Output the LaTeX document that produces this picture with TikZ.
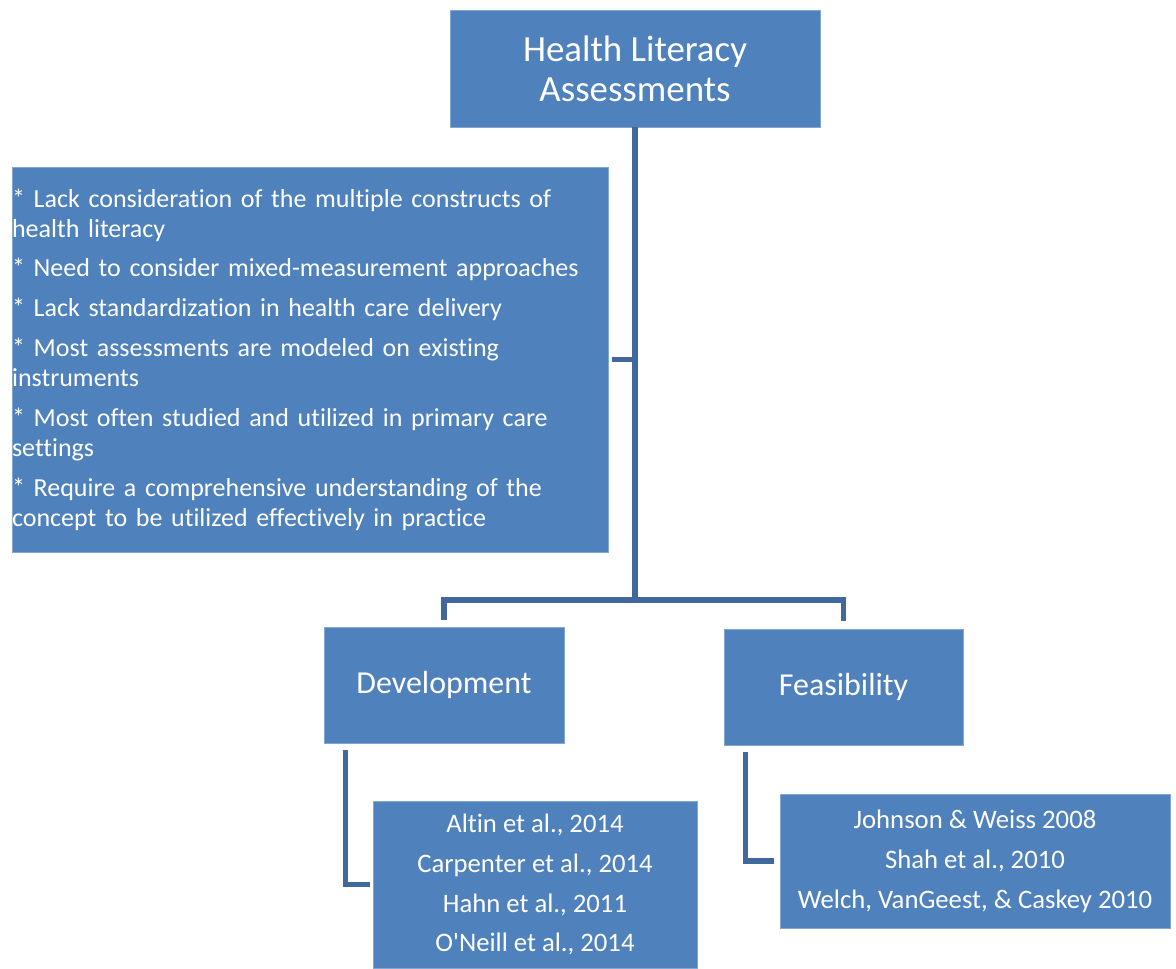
\documentclass[tikz,border=0pt]{standalone}
\usepackage{fontspec}
\setmainfont{Carlito}[Ligatures={NoCommon}]
\usepackage{tikz}

\definecolor{boxblue}{HTML}{4F81BD}
\definecolor{lineblue}{RGB}{64,104,156}

\begin{document}
\begin{tikzpicture}[x=0.02cm, y=-0.02cm,
    box/.style={fill=boxblue, draw=boxblue!70!white, line width=0.4pt, text=white, inner sep=0pt, align=center},
    conn/.style={draw=lineblue, line width=3.1pt}]

  \useasboundingbox (0,0) rectangle (1176,968);

  % top level
  \node[box, minimum width=7.4cm, minimum height=2.34cm,
        font=\fontsize{21}{22.7}\selectfont] (hla) at (635,68.5)
    {Health Literacy\\Assessments};

  % findings
  \node[box, align=left, text width=11.92cm, minimum height=7.7cm,
        font=\fontsize{14.8}{17}\selectfont] (notes) at (310,359.5)
    {* Lack consideration of the multiple constructs of\\health literacy\\[5.7pt]
     * Need to consider mixed-measurement approaches\\[5.7pt]
     * Lack standardization in health care delivery\\[5.7pt]
     * Most assessments are modeled on existing\\instruments\\[5.7pt]
     * Most often studied and utilized in primary care\\settings\\[5.7pt]
     * Require a comprehensive understanding of the\\concept to be utilized effectively in practice};

  % second level
  \node[box, minimum width=4.8cm, minimum height=2.32cm,
        font=\fontsize{18.2}{21}\selectfont] (dev) at (444,685) {Development};
  \node[box, minimum width=4.78cm, minimum height=2.32cm,
        font=\fontsize{18.2}{21}\selectfont] (feas) at (843.5,687) {Feasibility};

  % references
  \node[box, minimum width=6.48cm, minimum height=3.34cm,
        font=\fontsize{15.2}{22.7}\selectfont] (devrefs) at (535,884.5)
    {Altin et al., 2014\\Carpenter et al., 2014\\Hahn et al., 2011\\O\textquotesingle Neill et al., 2014};
  \node[box, minimum width=7.8cm, minimum height=2.68cm,
        font=\fontsize{15.2}{22.7}\selectfont] (feasrefs) at (975,861)
    {Johnson \& Weiss 2008\\Shah et al., 2010\\Welch, VanGeest, \& Caskey 2010};

  % connectors
  \coordinate (split) at (635,600);
  \draw[conn] (hla.south) -- (split);
  \draw[conn, shorten <=0.08cm] (notes.east) -- (hla.south |- notes.east);
  \draw[conn, shorten >=0.14cm] (split) -| (dev.north);
  \draw[conn, shorten >=0.16cm] (split) -| (feas.north);
  \draw[conn, shorten >=0.06cm] ([xshift=0.44cm, yshift=-0.14cm]dev.south west) |- (devrefs.west);
  \draw[conn, shorten >=0.12cm] ([xshift=0.44cm, yshift=-0.14cm]feas.south west) |- (feasrefs.west);

\end{tikzpicture}
\end{document}
